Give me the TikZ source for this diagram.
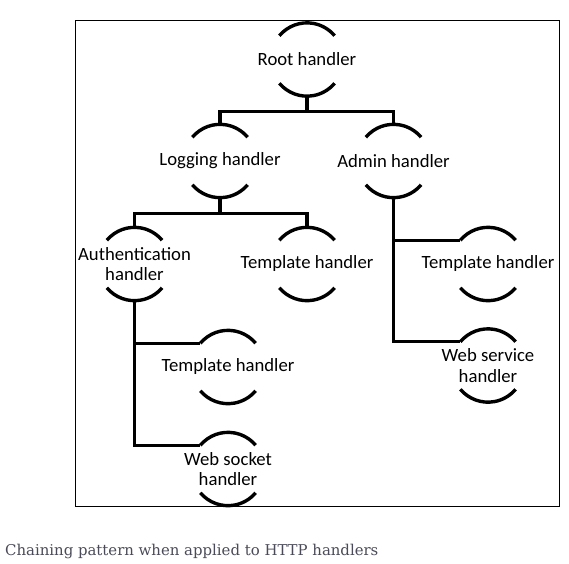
\documentclass[tikz,border=0pt]{standalone}
\usepackage{fontspec}
\setmainfont{Carlito}
\newfontfamily\capfont{DejaVu Serif}
\definecolor{capgray}{HTML}{4A4A58}
\begin{document}
\begin{tikzpicture}[x=1pt,y=1pt,
  handler/.style={minimum width=56pt,minimum height=73pt,inner sep=0pt,align=center,font=\fontsize{18.7}{20.5}\selectfont},
  link/.style={line width=3.4pt,line join=miter},
  arcline/.style={line width=3.4pt}]
\useasboundingbox (0,0) rectangle (569,-563);
\draw[line width=1pt] (75,-20) rectangle (559,-506);

\node[handler] (root) at (307,-59.5) {Root handler};
\node[handler] (log)  at (220,-161) {Logging handler};
\node[handler] (adm)  at (393.5,-161) {Admin handler};
\node[handler] (auth) at (134.5,-264) {Authentication\\handler};
\node[handler] (tpla) at (307,-264) {Template handler};
\node[handler] (tplb) at (488,-264) {Template handler};
\node[handler] (tplc) at (228,-367) {Template handler};
\node[handler] (wsv)  at (488,-365.5) {Web service\\handler};
\node[handler] (wsk)  at (228,-469) {Web socket\\handler};

\foreach \n in {root,log,adm,auth,tpla,tplb,tplc,wsv,wsk}{
  \draw[arcline] ([shift={(-27.6,-12.9)}]\n.north) arc[start angle=140,end angle=40,radius=36pt];
  \draw[arcline] ([shift={(-27.6,12.9)}]\n.south) arc[start angle=220,end angle=320,radius=36pt];
  \coordinate (\n-l) at ([shift={(-27.6,-12.9)}]\n.north);
}

\draw[link] (root.south) -- ++(0,-15) coordinate (j1) -| (log.north);
\draw[link] (j1) -| (adm.north);
\draw[link] (log.south) -- ++(0,-16) coordinate (j2) -| (auth.north);
\draw[link] (j2) -| (tpla.north);
\draw[link] (adm.south) |- (tplb-l);
\draw[link] (adm.south) |- (wsv-l);
\draw[link] (auth.south) |- (tplc-l);
\draw[link] (auth.south) |- (wsk-l);

\node[anchor=west,inner sep=0pt,text=capgray,font=\capfont\fontsize{14.9}{17}\selectfont] (cap) at (5,-551) {Chaining pattern when applied to HTTP handlers};
\end{tikzpicture}
\end{document}
